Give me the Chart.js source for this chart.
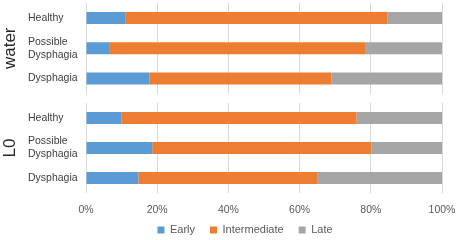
<!DOCTYPE html>
<html lang="en">
<head>
<meta charset="UTF-8" />
<title>Swallow timing</title>
<script src="https://cdn.jsdelivr.net/npm/chart.js"></script>
<style>
  html, body { margin: 0; padding: 0; background: #fff; overflow: hidden; }
  .box { position: absolute; left: 0; width: 459px; }
  #top-box { top: 0; height: 96px; }
  #bottom-box { top: 100px; height: 153px; }
</style>
</head>
<body>
<div class="box" id="top-box"><canvas id="waterChart"></canvas></div>
<div class="box" id="bottom-box"><canvas id="l0Chart"></canvas></div>
<script>
// categories (top to bottom) and series
const categories = ['Healthy', ['Possible', 'Dysphagia'], 'Dysphagia'];
const seriesNames = ['Early', 'Intermediate', 'Late'];

// share of swallows per phase, %
const waterEarly = [11.0, 6.7, 17.8];
const waterIntermediate = [73.6, 71.7, 51.1];
const waterLate = [15.4, 21.6, 31.1];

const l0Early = [9.9, 18.6, 14.7];
const l0Intermediate = [66.1, 61.6, 50.4];
const l0Late = [24.0, 19.8, 34.9];

const percentTicks = [0, 20, 40, 60, 80, 100];

const colors = ['#5B9BD5', '#ED7D31', '#A5A5A5'];
const font = 'Liberation Sans, Arial, sans-serif';

// nudge the legend row to sit where the original has it
const shiftLegend = {
  id: 'shiftLegend',
  afterLayout(chart) {
    const lg = chart.legend;
    if (lg) {
      lg.left += 24;
      lg.right += 24;
      lg.top -= 7.5;
      lg.bottom -= 7.5;
    }
  }
};

function noPad(s) {
  s.paddingTop = 0;
  s.paddingBottom = 0;
  s.paddingLeft = 0;
  s.paddingRight = 0;
}

function makeChart(id, groupName, early, inter, late, bottom) {
  const values = [early, inter, late];
  return new Chart(document.getElementById(id), {
    type: 'bar',
    data: {
      labels: categories,
      datasets: seriesNames.map((name, i) => ({
        label: name,
        data: values[i],
        backgroundColor: colors[i],
        borderWidth: 0,
        categoryPercentage: 1,
        barPercentage: 0.4
      }))
    },
    options: {
      indexAxis: 'y',
      responsive: true,
      maintainAspectRatio: false,
      animation: false,
      devicePixelRatio: 1,
      layout: {
        padding: bottom
          ? { top: 3, right: 17, bottom: 0, left: 0 }
          : { top: 3, right: 17, bottom: 2.5, left: 0 }
      },
      scales: {
        x: {
          stacked: true,
          min: 0,
          max: 100,
          afterBuildTicks: (s) => { s.ticks = percentTicks.map(v => ({ value: v })); },
          afterFit: (s) => { s.height = bottom ? 24 : 0; noPad(s); },
          border: { display: false },
          grid: { color: '#D9D9D9', lineWidth: 1, drawTicks: false },
          ticks: {
            display: bottom,
            padding: 11,
            color: '#595959',
            font: { family: font, size: 10.5 },
            callback: (v) => v + '%'
          }
        },
        y: {
          stacked: true,
          afterFit: (s) => { s.width = 58; noPad(s); },
          border: { display: false },
          grid: { display: false, drawTicks: false },
          ticks: {
            autoSkip: false,
            crossAlign: 'far',
            color: '#404040',
            font: { family: font, size: 10.5, lineHeight: 1.25 }
          }
        },
        yt: {
          type: 'category',
          position: 'left',
          weight: 1,
          afterFit: (s) => { s.width = 28; noPad(s); },
          border: { display: false },
          grid: { display: false, drawTicks: false },
          ticks: { display: false },
          title: {
            display: true,
            text: groupName,
            color: '#262626',
            padding: { top: 0, bottom: 0 },
            font: { family: font, size: 17 }
          }
        }
      },
      plugins: {
        legend: {
          display: bottom,
          position: 'bottom',
          labels: {
            boxWidth: 7,
            boxHeight: 7,
            padding: 15,
            color: '#595959',
            font: { family: font, size: 11 }
          }
        },
        tooltip: { enabled: false }
      }
    },
    plugins: bottom ? [shiftLegend] : []
  });
}

makeChart('waterChart', 'water', waterEarly, waterIntermediate, waterLate, false);
makeChart('l0Chart', 'L0', l0Early, l0Intermediate, l0Late, true);
</script>
</body>
</html>
